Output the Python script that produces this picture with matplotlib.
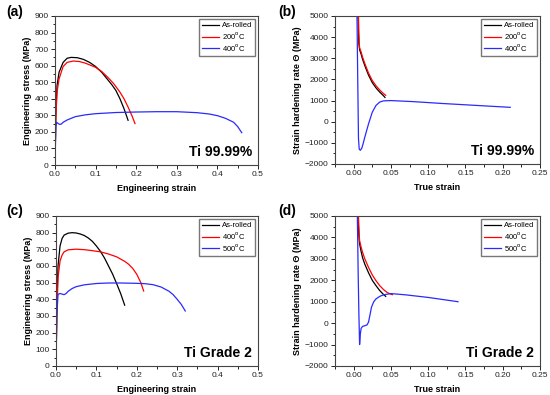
import numpy as np
import matplotlib.pyplot as plt
from matplotlib.ticker import AutoMinorLocator

plt.rcParams['font.family'] = ['Liberation Sans', 'DejaVu Sans']

# (a) Ti 99.99% engineering stress-strain
a_rolled_x = [0, 0.002, 0.005, 0.01, 0.02, 0.03, 0.04, 0.055, 0.07, 0.085, 0.1, 0.115, 0.125, 0.14, 0.15, 0.16, 0.17, 0.18]
a_rolled_y = [0, 300, 480, 560, 620, 645, 650, 648, 638, 620, 595, 560, 530, 485, 450, 400, 340, 270]
a_200_x = [0, 0.002, 0.005, 0.01, 0.02, 0.03, 0.045, 0.06, 0.075, 0.09, 0.1, 0.115, 0.13, 0.145, 0.16, 0.17, 0.18, 0.19, 0.197]
a_200_y = [0, 280, 440, 520, 595, 620, 628, 625, 615, 600, 590, 565, 530, 490, 440, 400, 350, 295, 250]
a_400_x = [0, 0.002, 0.004, 0.008, 0.012, 0.016, 0.02, 0.03, 0.05, 0.075, 0.1, 0.15, 0.2, 0.25, 0.3, 0.35, 0.38, 0.4, 0.42, 0.44, 0.45, 0.46]
a_400_y = [0, 230, 258, 250, 245, 248, 258, 272, 292, 303, 310, 317, 320, 322, 322, 316, 308, 298, 282, 258, 232, 195]

# (b) Ti 99.99% strain hardening rate
b_rolled_x = [0.006, 0.0065, 0.007, 0.008, 0.01, 0.012, 0.015, 0.02, 0.025, 0.03, 0.035, 0.04, 0.042]
b_rolled_y = [5000, 4200, 3700, 3400, 3200, 2950, 2650, 2200, 1850, 1600, 1400, 1230, 1150]
b_200_x = [0.0065, 0.007, 0.0075, 0.008, 0.01, 0.012, 0.015, 0.02, 0.025, 0.03, 0.035, 0.04, 0.043]
b_200_y = [5000, 4200, 3700, 3500, 3300, 3050, 2750, 2300, 1950, 1700, 1500, 1330, 1250]
b_400_x = [0.0045, 0.0055, 0.0065, 0.0075, 0.009, 0.011, 0.013, 0.016, 0.02, 0.025, 0.03, 0.035, 0.04, 0.05, 0.08, 0.12, 0.17, 0.21]
b_400_y = [5000, 2000, -800, -1300, -1350, -1250, -1000, -600, -100, 450, 770, 930, 985, 1000, 950, 860, 760, 680]

# (c) Ti Grade 2 engineering stress-strain
c_rolled_x = [0, 0.002, 0.005, 0.01, 0.015, 0.02, 0.03, 0.04, 0.05, 0.06, 0.07, 0.08, 0.09, 0.1, 0.11, 0.12, 0.13, 0.14, 0.15, 0.16, 0.17]
c_rolled_y = [0, 350, 600, 720, 765, 785, 797, 800, 798, 792, 783, 768, 748, 720, 688, 648, 600, 552, 495, 435, 365]
c_400_x = [0, 0.002, 0.005, 0.01, 0.015, 0.02, 0.03, 0.05, 0.07, 0.09, 0.11, 0.13, 0.15, 0.17, 0.18, 0.19, 0.2, 0.21, 0.217]
c_400_y = [0, 300, 530, 630, 665, 685, 697, 701, 698, 692, 685, 672, 655, 628, 610, 585, 550, 500, 450]
c_500_x = [0, 0.002, 0.005, 0.01, 0.02, 0.025, 0.03, 0.04, 0.05, 0.07, 0.1, 0.13, 0.16, 0.2, 0.22, 0.24, 0.26, 0.28, 0.29, 0.3, 0.31, 0.32]
c_500_y = [0, 300, 430, 435, 428, 435, 448, 465, 476, 487, 495, 498, 498, 496, 494, 488, 474, 448, 428, 400, 370, 330]

# (d) Ti Grade 2 strain hardening rate
d_rolled_x = [0.006, 0.0065, 0.007, 0.008, 0.01, 0.012, 0.015, 0.02, 0.025, 0.03, 0.035, 0.04, 0.043]
d_rolled_y = [5000, 4500, 4100, 3700, 3350, 3050, 2750, 2350, 2000, 1750, 1520, 1340, 1250]
d_400_x = [0.0065, 0.007, 0.0075, 0.008, 0.01, 0.012, 0.015, 0.02, 0.025, 0.03, 0.035, 0.04, 0.045, 0.05, 0.052]
d_400_y = [5000, 4500, 4100, 3850, 3550, 3300, 3000, 2600, 2250, 1980, 1750, 1570, 1430, 1350, 1330]
d_500_x = [0.005, 0.006, 0.007, 0.008, 0.009, 0.01, 0.012, 0.015, 0.018, 0.02, 0.022, 0.024, 0.027, 0.03, 0.035, 0.04, 0.05, 0.07, 0.1, 0.14]
d_500_y = [5000, 2500, 500, -1000, -500, -250, -150, -120, -80, 50, 400, 750, 1000, 1130, 1250, 1320, 1380, 1320, 1200, 1000]

fig = plt.figure(figsize=(5.5, 3.95), dpi=100)
W, H = 550.0, 395.0

def make_ax(l, t, r, b):
    return fig.add_axes([l / W, 1 - b / H, (r - l) / W, (b - t) / H])

def style(ax, xlabel, ylabel, note, panel, px, py):
    for s in ax.spines.values():
        s.set_color('#444444')
        s.set_linewidth(0.8)
    ax.tick_params(direction='out', length=3, width=0.7, labelsize=6, pad=1.5, colors='#222222', top=False, right=False)
    ax.tick_params(which='minor', direction='out', length=1.8, width=0.6, top=False, right=False)
    ax.xaxis.set_minor_locator(AutoMinorLocator(2))
    ax.yaxis.set_minor_locator(AutoMinorLocator(2))
    ax.set_xlabel(xlabel, fontsize=6.5, fontweight='bold', labelpad=4)
    ax.set_ylabel(ylabel, fontsize=6.5, fontweight='bold', labelpad=2)
    ax.text(0.97, 0.04, note, transform=ax.transAxes, ha='right', va='bottom', fontsize=10, fontweight='bold')
    ax.legend(loc='upper right', fontsize=5.5, frameon=True, fancybox=False, edgecolor='#555555',
              handlelength=2.3, handletextpad=0.3, labelspacing=0.1, borderpad=0.35, borderaxespad=0.45)
    fig.text(px / W, 1 - py / H, panel, ha='left', va='center', fontsize=10, fontweight='bold')

lw = 0.9

ax = make_ax(55, 16, 258, 165)
ax.plot(a_rolled_x, a_rolled_y, color='black', lw=lw, label='As-rolled')
ax.plot(a_200_x, a_200_y, color='red', lw=lw, label='200$^{\\rm o}$C')
ax.plot(a_400_x, a_400_y, color='#2a2aff', lw=lw, label='400$^{\\rm o}$C')
ax.set_xlim(0, 0.5)
ax.set_ylim(0, 900)
ax.set_xticks([0.0, 0.1, 0.2, 0.3, 0.4, 0.5])
ax.set_xticklabels(['0.0', '0.1', '0.2', '0.3', '0.4', '0.5'])
ax.set_yticks(range(0, 901, 100))
style(ax, 'Engineering strain', 'Engineering stress (MPa)', 'Ti 99.99%', '(a)', 6, 12)

ax = make_ax(335, 16, 540, 164)
ax.plot(b_rolled_x, b_rolled_y, color='black', lw=lw, label='As-rolled')
ax.plot(b_200_x, b_200_y, color='red', lw=lw, label='200$^{\\rm o}$C')
ax.plot(b_400_x, b_400_y, color='#2a2aff', lw=lw, label='400$^{\\rm o}$C')
ax.set_xlim(-0.025, 0.25)
ax.set_ylim(-2000, 5000)
ax.set_xticks([0.0, 0.05, 0.1, 0.15, 0.2, 0.25])
ax.set_xticklabels(['0.00', '0.05', '0.10', '0.15', '0.20', '0.25'])
ax.set_yticks(range(-2000, 5001, 1000))
style(ax, 'True strain', 'Strain hardening rate \u0398 (MPa)', 'Ti 99.99%', '(b)', 278, 12)

ax = make_ax(56, 216, 258, 366)
ax.plot(c_rolled_x, c_rolled_y, color='black', lw=lw, label='As-rolled')
ax.plot(c_400_x, c_400_y, color='red', lw=lw, label='400$^{\\rm o}$C')
ax.plot(c_500_x, c_500_y, color='#2a2aff', lw=lw, label='500$^{\\rm o}$C')
ax.set_xlim(0, 0.5)
ax.set_ylim(0, 900)
ax.set_xticks([0.0, 0.1, 0.2, 0.3, 0.4, 0.5])
ax.set_xticklabels(['0.0', '0.1', '0.2', '0.3', '0.4', '0.5'])
ax.set_yticks(range(0, 901, 100))
style(ax, 'Engineering strain', 'Engineering stress (MPa)', 'Ti Grade 2', '(c)', 6, 211)

ax = make_ax(335, 216, 540, 366)
ax.plot(d_rolled_x, d_rolled_y, color='black', lw=lw, label='As-rolled')
ax.plot(d_400_x, d_400_y, color='red', lw=lw, label='400$^{\\rm o}$C')
ax.plot(d_500_x, d_500_y, color='#2a2aff', lw=lw, label='500$^{\\rm o}$C')
ax.set_xlim(-0.025, 0.25)
ax.set_ylim(-2000, 5000)
ax.set_xticks([0.0, 0.05, 0.1, 0.15, 0.2, 0.25])
ax.set_xticklabels(['0.00', '0.05', '0.10', '0.15', '0.20', '0.25'])
ax.set_yticks(range(-2000, 5001, 1000))
style(ax, 'True strain', 'Strain hardening rate \u0398 (MPa)', 'Ti Grade 2', '(d)', 278, 211)

fig.savefig('out.png', dpi=100)
